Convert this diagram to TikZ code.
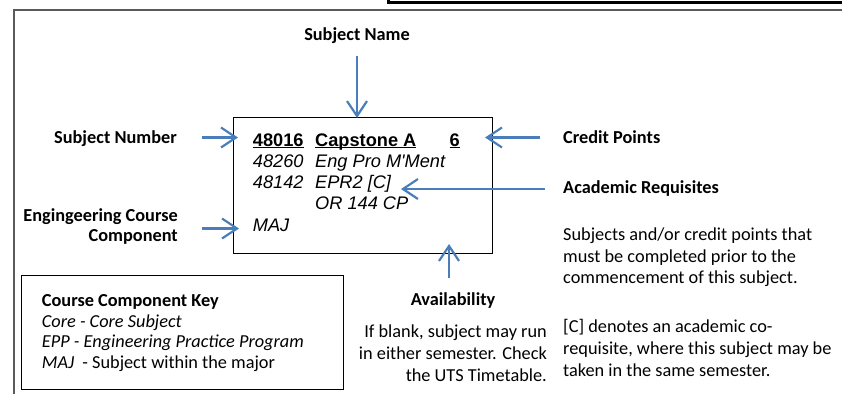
\documentclass[tikz,border=0pt]{standalone}
\usepackage{fontspec}
\setmainfont{Carlito}
\newfontfamily\arialf{Liberation Sans}
\usetikzlibrary{arrows.meta}
\definecolor{arrowblue}{HTML}{4A7EBB}
\definecolor{framegray}{HTML}{5A5A5A}
\newcommand\ulbox[1]{\setbox0\hbox{#1}\rlap{\rule[-2.3pt]{\wd0}{1.4pt}}\box0}
\begin{document}
\begin{tikzpicture}[x=1pt,y=-1pt,
  lbl/.style={inner sep=0pt, font=\fontsize{18.3}{22}\selectfont\bfseries},
  txt/.style={inner sep=0pt, font=\fontsize{18.3}{22}\selectfont},
  boxtxt/.style={inner sep=0pt, font=\arialf\fontsize{18.2}{21}\selectfont},
  ptr/.style={draw=arrowblue, line width=2.2pt, -{Straight Barb[length=15pt,width=20pt,line width=2.2pt]}},
  frame/.style={draw=framegray, line width=2pt},
  cardbox/.style={draw, line width=1.3pt, inner sep=0pt, anchor=north west},
]
\useasboundingbox (0,0) rectangle (842,394);
\clip (0,0) rectangle (842,394);
% outer frame and top black box
\draw[frame] (842,10) -- (14,10) -- (14,394);
\draw[line width=3pt] (388,-20) rectangle (900,2.5);
% main subject card
\node[cardbox, minimum width=259pt, minimum height=136pt] (card) at (233,117) {};
% key box
\node[cardbox, line width=1.1pt, minimum width=322pt, minimum height=114pt] (keybox) at (21,275) {};
% card text
\node[boxtxt, anchor=base west] (n1) at (252.7,146) {\ulbox{\bfseries 48016}};
\node[boxtxt, anchor=base west] (nm1) at (315,146) {\ulbox{\bfseries Capstone A}};
\node[boxtxt, anchor=base west] (cp) at (449.3,146) {\ulbox{\bfseries 6}};
\node[boxtxt, anchor=base west] (n2) at (252.7,167) {\itshape 48260};
\node[boxtxt, anchor=base west] (nm2) at (315,167) {\itshape Eng Pro M\symbol{"27}Ment};
\node[boxtxt, anchor=base west] (n3) at (252.7,188) {\itshape 48142};
\node[boxtxt, anchor=base west] (nm3) at (315,188) {\itshape EPR2 [C]};
\node[boxtxt, anchor=base west] (nm4) at (315,209) {\itshape OR 144 CP};
\node[boxtxt, anchor=base west] (maj) at (252.7,231.5) {\itshape MAJ};
% labels
\node[lbl, anchor=base] (sname) at (357,40) {Subject Name};
\node[lbl, anchor=base east] (snum) at (177,143) {Subject Number};
\node[lbl, anchor=base east] (eng1) at (178,221) {Engingeering Course};
\node[lbl, anchor=base east] (eng2) at (178,241) {Component};
\node[lbl, anchor=base west] (credit) at (563,143) {Credit Points};
\node[lbl, anchor=base west] (acad) at (563,193) {Academic Requisites};
\node[txt, anchor=base west] (desc1) at (563,240) {Subjects and/or credit points that};
\node[txt, anchor=base west] (desc2) at (563,262) {must be completed prior to the};
\node[txt, anchor=base west] (desc3) at (563,283.5) {commencement of this subject.};
\node[lbl, anchor=base] (avail) at (453,305) {Availability};
\node[txt, anchor=base east] (blank1) at (547,337) {If blank, subject may run};
\node[txt, anchor=base east] (blank2) at (547,359) {in either semester. Check};
\node[txt, anchor=base east] (blank3) at (547,381) {the UTS Timetable.};
\node[txt, anchor=base west] (co1) at (563,332) {[C] denotes an academic co-};
\node[txt, anchor=base west] (co2) at (563,354) {requisite, where this subject may be};
\node[txt, anchor=base west] (co3) at (563,376) {taken in the same semester.};
\node[lbl, anchor=base west] (key1) at (41.7,306) {Course Component Key};
\node[txt, anchor=base west] (key2) at (41.7,327) {\itshape Core - Core Subject};
\node[txt, anchor=base west] (key3) at (41.7,347.5) {\itshape EPP - Engineering Practice Program};
\node[txt, anchor=base west] (key4) at (41.7,368) {\textit{MAJ}\hspace{0.45em}- Subject within the major};
% arrows
\coordinate (snS) at (357,56);   \coordinate (snE) at (357,118);
\coordinate (nuS) at (202,137.5); \coordinate (nuE) at (238,137.5);
\coordinate (crS) at (540,137.5); \coordinate (crE) at (485,137.5);
\coordinate (acS) at (545,189);  \coordinate (acE) at (401,189);
\coordinate (enS) at (202,228.5); \coordinate (enE) at (239,228.5);
\coordinate (avS) at (449,278);  \coordinate (avE) at (449,244);
\draw[ptr] (snS) -- (snE);
\draw[ptr] (nuS) -- (nuE);
\draw[ptr] (crS) -- (crE);
\draw[ptr] (acS) -- (acE);
\draw[ptr] (enS) -- (enE);
\draw[ptr] (avS) -- (avE);
\end{tikzpicture}
\end{document}
